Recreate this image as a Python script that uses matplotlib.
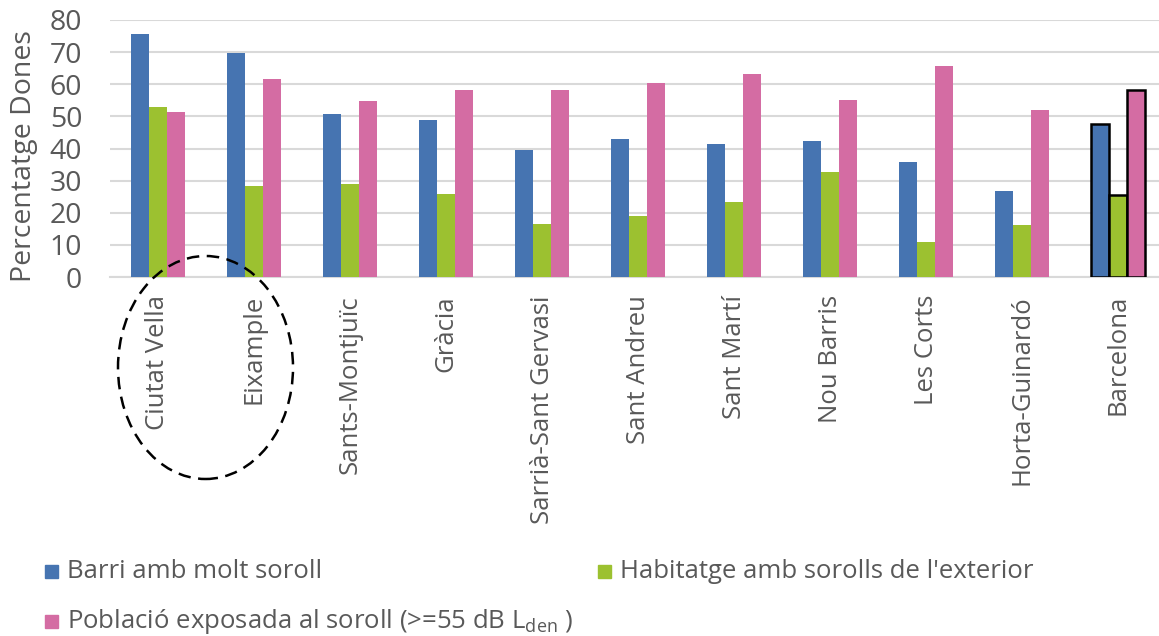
import matplotlib.pyplot as plt
from matplotlib.patches import Ellipse, Rectangle
import numpy as np

plt.rcParams['font.family'] = ['Open Sans', 'DejaVu Sans']

districts = ['Ciutat Vella', 'Eixample', 'Sants-Montjuïc', 'Gràcia', 'Sarrià-Sant Gervasi',
             'Sant Andreu', 'Sant Martí', 'Nou Barris', 'Les Corts', 'Horta-Guinardó', 'Barcelona']
barri_soroll = [75.6, 69.6, 50.7, 49.0, 39.5, 43.1, 41.3, 42.4, 35.8, 26.9, 47.5]
habitatge_soroll = [52.9, 28.4, 29.1, 25.8, 16.4, 19.0, 23.3, 32.7, 11.0, 16.2, 25.4]
poblacio_exposada = [51.3, 61.6, 54.7, 58.3, 58.3, 60.5, 63.3, 55.0, 65.8, 51.9, 58.1]

series = [
    ('Barri amb molt soroll', barri_soroll, '#4674b1'),
    ("Habitatge amb sorolls de l'exterior", habitatge_soroll, '#9cc130'),
    ('Població exposada al soroll (>=55 dB L$_{\\mathregular{den}}$ )', poblacio_exposada, '#d46ca3'),
]

fig = plt.figure(figsize=(11.59, 6.36), dpi=100)
ax = fig.add_axes([110 / 1159, 1 - 277 / 636, 1056 / 1159, 257 / 636])

x = np.arange(len(districts))
w = 0.19
grey = '#595959'
for i, (name, vals, col) in enumerate(series):
    bars = ax.bar(x + (i - 1) * w, vals, w, color=col, zorder=3)
    # Barcelona bars get a black edge
    bars[-1].set_edgecolor('black')
    bars[-1].set_linewidth(1.8)

ax.set_xlim(-0.5, len(districts) - 0.5)
ax.set_ylim(0, 80)
ax.set_yticks(range(0, 81, 10))
ax.grid(axis='y', color='#d9d9d9', linewidth=1.5, zorder=0)
for s in ['top', 'right', 'left']:
    ax.spines[s].set_visible(False)
ax.spines['bottom'].set_color('#d9d9d9')
ax.spines['bottom'].set_linewidth(1.5)
ax.tick_params(axis='both', length=0, colors=grey)
ax.tick_params(axis='y', labelsize=20.5, pad=20)
ax.set_xticks(x)
ax.set_xticklabels(districts, rotation=90, color=grey)
ax.tick_params(axis='x', labelsize=18.5, pad=13)
ax.set_ylabel('Percentatge Dones', color=grey, fontsize=20.5)
ax.yaxis.set_label_coords(-0.068, 0.47)

# dashed ellipse around the first two districts
ell = Ellipse((205.5 / 1159, 1 - 367.5 / 636), 175 / 1159, 223 / 636,
              transform=fig.transFigure, fill=False, edgecolor='black',
              linestyle=(0, (5, 3)), linewidth=1.8)
fig.patches.append(ell)

# legend
legend_pos = [(45, 572), (598, 572), (45, 622)]
for (name, vals, col), (lx, ly) in zip(series, legend_pos):
    fig.patches.append(Rectangle((lx / 1159, 1 - (ly + 6) / 636), 13 / 1159, 13 / 636,
                                 transform=fig.transFigure, color=col))
    fig.text((lx + 22) / 1159, 1 - ly / 636, name, fontsize=18.5, color=grey, va='center', ha='left')

fig.savefig('out.png', dpi=100)
